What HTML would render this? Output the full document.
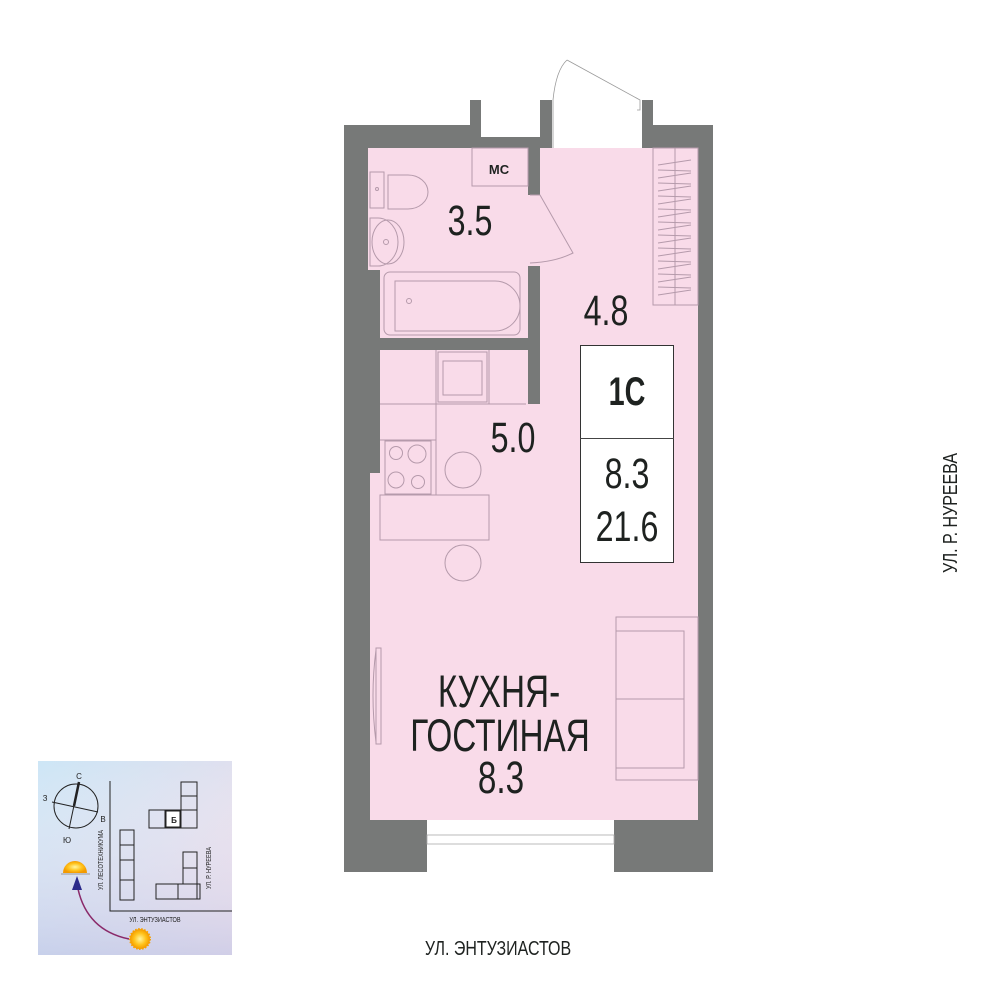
<!DOCTYPE html>
<html><head><meta charset="utf-8"><style>
html,body{margin:0;padding:0;background:#fff;}
svg{display:block}
.t{font-family:"Liberation Sans",sans-serif;fill:#1e2220;}
</style></head><body>
<svg width="1000" height="1000" viewBox="0 0 1000 1000" xmlns="http://www.w3.org/2000/svg">
<defs>
<linearGradient id="g" x1="0" y1="0" x2="1" y2="1">
<stop offset="0" stop-color="#cde6f6"/><stop offset="0.5" stop-color="#dfe0ef"/><stop offset="1" stop-color="#f6dbe6"/>
</linearGradient>
<linearGradient id="g2" x1="0" y1="0" x2="0" y2="1">
<stop offset="0" stop-color="#ffffff" stop-opacity="0"/><stop offset="1" stop-color="#b8c6e8" stop-opacity="0.6"/>
</linearGradient>
<radialGradient id="sun"><stop offset="0" stop-color="#fff6a0"/><stop offset="0.6" stop-color="#ffc21a"/><stop offset="1" stop-color="#f39a00"/></radialGradient>
</defs>
<rect x="344" y="125" width="369" height="747" fill="#777978"/>
<rect x="470" y="100" width="11" height="30" fill="#777978"/>
<rect x="540" y="100" width="12" height="50" fill="#777978"/>
<rect x="642" y="100" width="11" height="30" fill="#777978"/>
<rect x="481" y="100" width="59" height="37" fill="#fff"/>
<rect x="552" y="100" width="90" height="48" fill="#fff"/>
<rect x="344" y="100" width="126" height="25" fill="#fff"/>
<rect x="653" y="100" width="60" height="25" fill="#fff"/>
<path d="M553 148 L553 100 Q556 70 567 60" fill="none" stroke="#999" stroke-width="0.8"/>
<path d="M567 60 L640 100 L640 110 L637 110" fill="none" stroke="#999" stroke-width="0.8"/>
<g fill="#f9dbe9">
<rect x="368" y="148" width="160" height="122"/>
<rect x="540" y="148" width="158" height="672"/>
<rect x="380" y="266" width="148" height="72"/>
<rect x="380" y="350" width="160" height="470"/>
<rect x="370" y="473" width="20" height="347"/>
<rect x="528" y="195" width="12" height="71"/>
</g>
<rect x="528" y="338" width="12" height="66" fill="#777978"/>
<rect x="427" y="820" width="187" height="52" fill="#fff"/>
<rect x="427" y="835" width="187" height="9" fill="none" stroke="#aaa" stroke-width="0.8"/>
<g fill="none" stroke="#b59aab" stroke-width="1">
<rect x="472" y="148" width="56" height="38"/>
<rect x="370" y="172" width="14" height="36"/>
<path d="M388 175 h20 a20 17 0 0 1 0 34 h-20 z"/>
<circle cx="377" cy="189" r="1.5"/>
<path d="M370 218 h8 a20 24 0 0 1 0 48 h-8 z"/>
<ellipse cx="388" cy="242" rx="16" ry="22"/>
<circle cx="386" cy="242" r="2.5"/>
<rect x="384" y="272" width="136" height="63" rx="6"/>
<path d="M395 281 h100 a25 25 0 0 1 0 50 h-100 z"/>
<circle cx="409" cy="301" r="2.5"/>
<path d="M530 195 L540 195 L573 253 Q555 262 530 263"/>
<rect x="653" y="148" width="45" height="157"/>
<line x1="675" y1="148" x2="675" y2="305"/>
<path d="M658 165 L691 160 M658 178 L691 173 M658 191 L691 186 M658 204 L691 199 M658 217 L691 212 M658 230 L691 225 M658 243 L691 238 M658 256 L691 251 M658 269 L691 264 M658 282 L691 277 M658 295 L691 290"/>
<path d="M658 170 L691 171 M658 183 L691 184 M658 196 L691 197 M658 209 L691 210 M658 222 L691 223 M658 235 L691 236 M658 248 L691 249 M658 261 L691 262 M658 274 L691 275 M658 287 L691 288"/>
<path d="M380 404 H526 M436 350 V495 M489 350 V404 M380 440 H436"/>
<rect x="438" y="352" width="49" height="50"/>
<rect x="443" y="361" width="39" height="34"/>
<rect x="385" y="441" width="46" height="53"/>
<circle cx="396" cy="453" r="6.5"/><circle cx="417" cy="454" r="9"/>
<circle cx="396" cy="480" r="8"/><circle cx="418" cy="482" r="6.5"/>
<circle cx="463" cy="470" r="18"/>
<rect x="380" y="495" width="109" height="45"/>
<circle cx="463" cy="563" r="18"/>
<rect x="616" y="617" width="82" height="163"/>
<rect x="616" y="631" width="68" height="137"/>
<line x1="616" y1="699" x2="684" y2="699"/>
<rect x="376" y="648" width="5" height="96"/>
<path d="M376 650 Q370 695 376 742"/>
</g>
<rect x="580.5" y="345.5" width="93" height="217" fill="#fff" stroke="#333" stroke-width="1"/>
<line x1="580" y1="438.5" x2="674" y2="438.5" stroke="#444" stroke-width="1"/>
<g class="t" text-anchor="middle">
<text x="499" y="174" font-size="13" font-weight="bold">МС</text>
<text transform="translate(470,235) scale(0.75,1)" font-size="43">3.5</text>
<text transform="translate(606,325) scale(0.75,1)" font-size="43">4.8</text>
<text transform="translate(513,452) scale(0.75,1)" font-size="43">5.0</text>
<text transform="translate(627,405) scale(0.72,1)" font-size="40" font-weight="bold">1С</text>
<text transform="translate(627,488) scale(0.75,1)" font-size="43">8.3</text>
<text transform="translate(627,541) scale(0.75,1)" font-size="43">21.6</text>
<text transform="translate(499,707) scale(0.74,1)" font-size="45">КУХНЯ-</text>
<text transform="translate(500,751) scale(0.74,1)" font-size="45">ГОСТИНАЯ</text>
<text transform="translate(501,793) scale(0.74,1)" font-size="45">8.3</text>
<text transform="translate(498,955) scale(0.8,1)" font-size="20">УЛ. ЭНТУЗИАСТОВ</text>
<text transform="translate(957,513) rotate(-90) scale(0.8,1)" font-size="20">УЛ. Р. НУРЕЕВА</text>
</g>
<rect x="38" y="761" width="194" height="194" fill="url(#g)"/>
<rect x="38" y="761" width="194" height="194" fill="url(#g2)"/>
<g fill="none" stroke="#222" stroke-width="1">
<circle cx="76" cy="806" r="22"/>
<line x1="52" y1="802" x2="98" y2="812"/>
<line x1="69" y1="829" x2="79" y2="782"/>
<line x1="74" y1="806" x2="79" y2="782" stroke-width="2.5"/>
<path d="M110 781 V911 H232"/>
<rect x="120" y="830" width="14" height="70"/>
<path d="M120 845 H134 M120 860 H134 M120 880 H134"/>
<rect x="149" y="810" width="48" height="18"/>
<path d="M165 810 V828 M181 810 V828 M181 810 V782 H197 V810 M181 796 H197"/>
<rect x="156" y="884" width="44" height="15"/>
<path d="M178 884 V899 M183 884 V852 H197 V899 M183 868 H197"/>
</g>
<rect x="166" y="811" width="14" height="16" fill="#fff" stroke="#222"/>
<g font-family="Liberation Sans,sans-serif" font-size="8" fill="#222" text-anchor="middle">
<text x="79" y="779">С</text><text x="45" y="801">З</text><text x="103" y="822">В</text><text x="67" y="843">Ю</text>
<text x="174" y="823" font-size="8" font-weight="bold">Б</text>
<text transform="translate(155,922) scale(0.8,1)" font-size="7">УЛ. ЭНТУЗИАСТОВ</text>
<text transform="translate(103,860) rotate(-90) scale(0.8,1)" font-size="7">УЛ. ЛЕСОТЕХНИКУМА</text>
<text transform="translate(211,868) rotate(-90) scale(0.8,1)" font-size="7">УЛ. Р. НУРЕЕВА</text>
</g>
<path d="M129 939 Q85 930 77 884" fill="none" stroke="#8a2a6a" stroke-width="1.5"/>
<path d="M77 876 L72 890 L82 890 Z" fill="#2b2a8a"/>
<path d="M63 873 a12 12 0 0 1 24 0 z" fill="url(#sun)"/>
<line x1="61" y1="874" x2="90" y2="874" stroke="#999"/>
<circle cx="140" cy="939" r="10" fill="url(#sun)" stroke="#f7a000" stroke-width="2" stroke-dasharray="1.5 1.5"/>
</svg>
</body></html>
